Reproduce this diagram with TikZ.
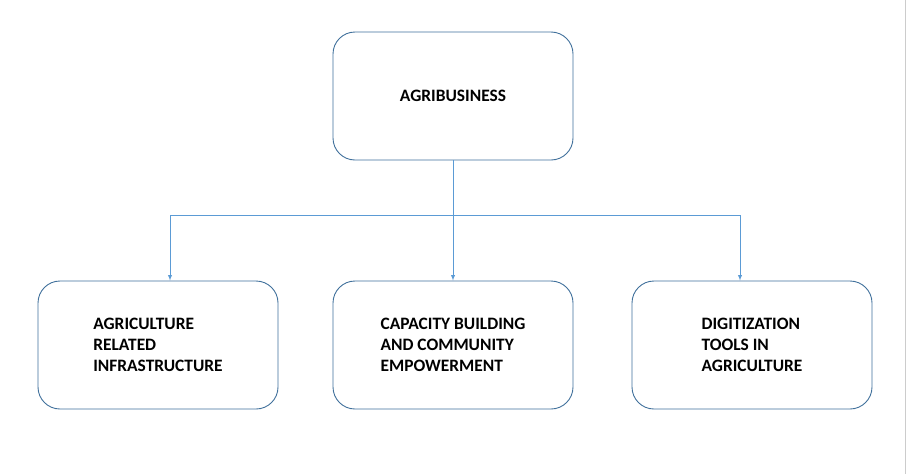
\documentclass[tikz,border=0pt]{standalone}
\usepackage{fontspec}
\setmainfont{Carlito}
\usepackage{xcolor}
\usetikzlibrary{shapes.geometric, arrows, positioning}
\definecolor{boxline}{HTML}{41719C}
\definecolor{linkblue}{HTML}{5B9BD5}
\tikzstyle{topic} = [rectangle, rounded corners=22pt, minimum width=240pt, minimum height=128pt, align=left, draw=boxline, line width=0.9pt, font=\fontsize{17.4}{21}\selectfont\bfseries]
\tikzstyle{arrow} = [linkblue, line width=0.9pt, ->, >=latex]

\begin{document}
\begin{tikzpicture}[node distance=249pt, x=1pt, y=-1pt]
				\useasboundingbox (0,0) rectangle (907,474);
				\fill [white] (0,0) rectangle (907,474);
				\draw [black!20, line width=0.8pt] (905,0) -- (905,474);
				
				% Nodes
				\node (agri) [topic] at (453,96) {AGRIBUSINESS};
				\node (capacity) [topic, below of=agri] {CAPACITY BUILDING\\AND COMMUNITY\\EMPOWERMENT};
				\node (infra) [topic, left of=capacity, xshift=-46pt] {AGRICULTURE\\RELATED\\INFRASTRUCTURE};
				\node (digital) [topic, right of=capacity, xshift=50pt] {DIGITIZATION\\TOOLS IN\\AGRICULTURE};
				\coordinate (split) at (453,215);
				
				% Arrows
				\draw [arrow] (agri.south) -- (capacity.north);
				\draw [arrow] (split) -| ([xshift=12pt]infra.north);
				\draw [arrow] (split) -| ([xshift=-12pt]digital.north);
				
			\end{tikzpicture}
\end{document}
